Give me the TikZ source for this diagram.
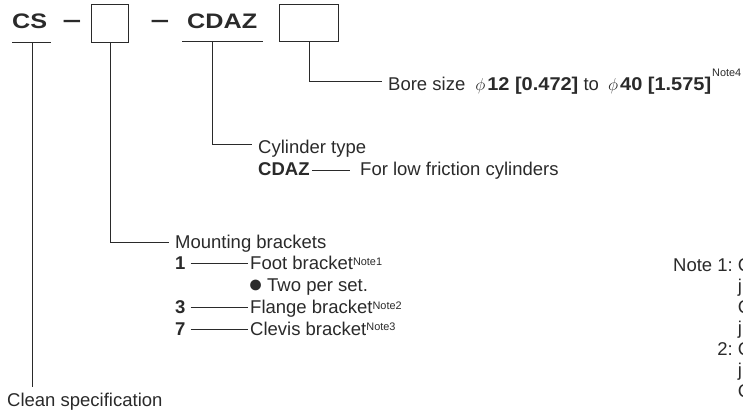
\documentclass[tikz,border=0pt]{standalone}
\usepackage{fontspec}
\setmainfont{Liberation Sans}
\newfontfamily\wideface[FakeStretch=1.2]{Liberation Sans}
\newfontfamily\numface[FakeStretch=1.08]{Liberation Sans}
\definecolor{ink}{HTML}{2A2A2A}
\newcommand\notesup[1]{\raisebox{4.5pt}{\fontsize{10.9}{11}\selectfont #1}}
\begin{document}
\begin{tikzpicture}[x=1pt,y=-1pt,
  ln/.style={draw=ink, line width=0.9pt},
  boxst/.style={draw=ink, line width=1.1pt, inner sep=0pt, anchor=north west},
  txt/.style={inner sep=0pt, anchor=base west, text=ink, font=\fontsize{18.5}{21}\selectfont},
  toptxt/.style={inner sep=0pt, anchor=base west, text=ink, font=\wideface\bfseries\fontsize{21}{24}\selectfont}]
\useasboundingbox (0,0) rectangle (743,416);
\clip (0,0) rectangle (743,416);
% top row
\node[toptxt] (cs) at (12,28) {CS};
\node[toptxt, xscale=1.3] (d1) at (62,28.5) {−};
\node[boxst, minimum width=37pt, minimum height=38pt] (b1) at (91,4) {};
\node[toptxt, xscale=1.3] (d2) at (150,28.5) {−};
\node[toptxt] (cdaz) at (187,28) {CDAZ};
\node[boxst, minimum width=59pt, minimum height=37pt] (b2) at (279,4) {};
\coordinate (csL) at (12,42); \coordinate (csR) at (51,42); \coordinate (csM) at (32,42);
\coordinate (cdL) at (182,41.5); \coordinate (cdR) at (263,41.5); \coordinate (cdM) at (212,41.5);
% texts
\node[txt] (clean) at (7,406) {Clean specification};
\node[txt] (bore) at (388,90) {Bore size\hspace{10pt}$\phi$\hspace{2pt}{\numface\bfseries 12 [0.472]} to \hspace{4pt}$\phi$\hspace{2pt}{\numface\bfseries 40 [1.575]}\hspace{1pt}\raisebox{14pt}{\fontsize{10.9}{11}\selectfont Note4}};
\node[txt] (cyl) at (258,153.5) {Cylinder type};
\node[txt] (cdaz2) at (258,175) {\textbf{CDAZ}};
\node[txt] (lowf) at (360,175) {For low friction cylinders};
\node[txt] (mount) at (175,248.5) {Mounting brackets};
\node[txt] (n1) at (175,269.5) {\textbf{1}};
\node[txt] (foot) at (250,269.5) {Foot bracket\notesup{Note1}};
\node[txt] (bul) at (248,292) {\fontsize{25}{25}\selectfont ●};
\node[txt] (two) at (267,291.5) {Two per set.};
\node[txt] (n3) at (175,313.5) {\textbf{3}};
\node[txt] (flange) at (250,313.5) {Flange bracket\notesup{Note2}};
\node[txt] (n7) at (175,335) {\textbf{7}};
\node[txt] (clevis) at (250,335) {Clevis bracket\notesup{Note3}};
\node[txt] (notes) at (673,271.5) {\begin{tabular}[t]{@{}r@{\hspace{5.1pt}}l@{}}Note 1: & C\\ & j\\ & C\\ & j\\ 2: & C\\ & j\\ & C\end{tabular}};
% connectors
\draw[ln] (csL) -- (csR);
\draw[ln] (cdL) -- (cdR);
\draw[ln, shorten >=5.5pt] (csM) -- (csM |- clean.north);
\draw[ln] (b1.south) |- ([xshift=-6pt,yshift=6pt]mount.base west);
\draw[ln] (cdM) |- ([xshift=-6pt,yshift=9.5pt]cyl.base west);
\draw[ln] (b2.south) |- ([xshift=-6pt,yshift=9pt]bore.base west);
\draw[ln] ([xshift=2pt,yshift=5pt]cdaz2.base east) -- ([xshift=-10pt,yshift=5pt]lowf.base west);
\draw[ln] ([xshift=5pt,yshift=6pt]n1.base east) -- ([xshift=-2pt,yshift=6pt]foot.base west);
\draw[ln] ([xshift=5pt,yshift=6pt]n3.base east) -- ([xshift=-2pt,yshift=6pt]flange.base west);
\draw[ln] ([xshift=5pt,yshift=6pt]n7.base east) -- ([xshift=-2pt,yshift=6pt]clevis.base west);
\end{tikzpicture}
\end{document}
